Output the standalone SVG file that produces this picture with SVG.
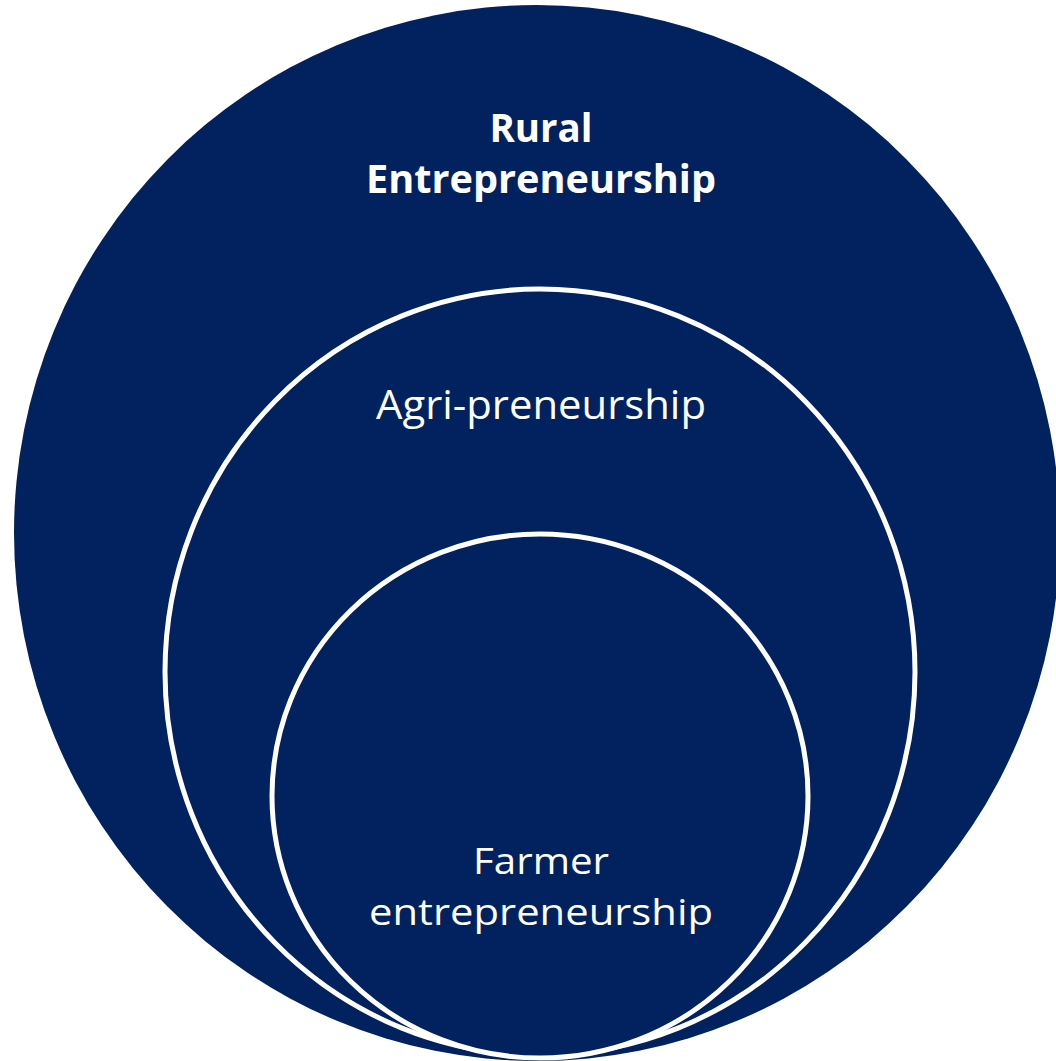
<svg xmlns="http://www.w3.org/2000/svg" width="1056" height="1061" viewBox="0 0 1056 1061">
  <style>
    .disc { fill: #02215f; }
    .ring { fill: #02215f; stroke: #ffffff; stroke-width: 5; }
    .lbl { fill: #ffffff; font-family: "Open Sans", "Liberation Sans", sans-serif; font-size: 40px; text-anchor: middle; }
    .sm { font-size: 37px; }
    .bold { font-weight: bold; }
  </style>
  <rect width="1056" height="1061" fill="#ffffff"/>
  <g id="rural">
    <ellipse class="disc" cx="537" cy="533" rx="523" ry="528"/>
    <text class="lbl bold" x="541" y="142" textLength="103" lengthAdjust="spacingAndGlyphs">Rural</text>
    <text class="lbl bold" x="541" y="193" textLength="350" lengthAdjust="spacingAndGlyphs">Entrepreneurship</text>
  </g>
  <g id="agri">
    <ellipse class="ring" cx="540" cy="672" rx="375" ry="383"/>
    <text class="lbl" x="541" y="419" textLength="330" lengthAdjust="spacingAndGlyphs">Agri-preneurship</text>
  </g>
  <g id="farmer">
    <ellipse class="ring" cx="540" cy="796" rx="268" ry="262"/>
    <text class="lbl sm" x="541" y="874" textLength="136" lengthAdjust="spacingAndGlyphs">Farmer</text>
    <text class="lbl sm" x="541" y="925" textLength="344" lengthAdjust="spacingAndGlyphs">entrepreneurship</text>
  </g>
  <g id="connectors"/>
</svg>
